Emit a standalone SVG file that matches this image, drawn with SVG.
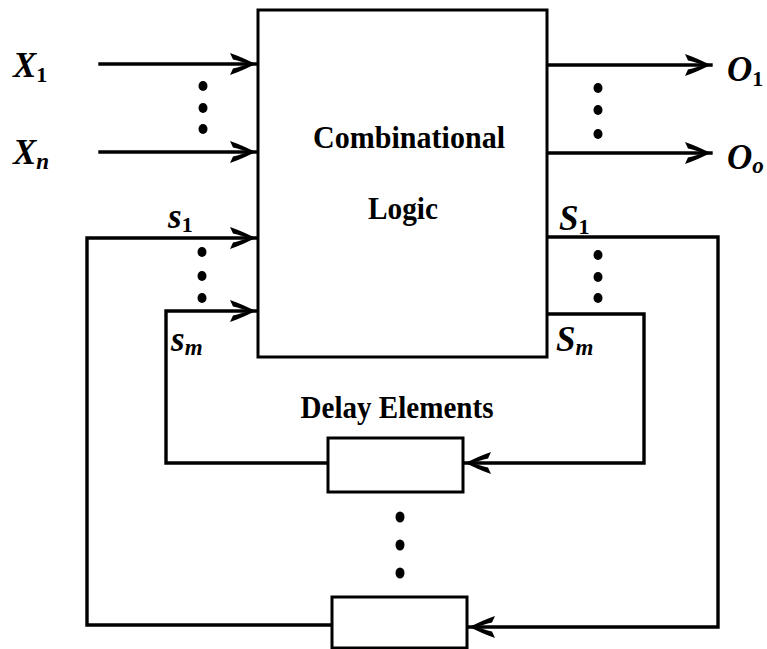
<svg xmlns="http://www.w3.org/2000/svg" width="767" height="649" viewBox="0 0 767 649">
<defs>
<style>
.ln{fill:none;stroke:#000;stroke-width:3.4;stroke-linejoin:miter;stroke-linecap:square}
.box{fill:#fff;stroke:#000;stroke-width:3}
.t{font-family:"Liberation Serif","Times New Roman",serif;font-weight:bold;font-size:32px;fill:#000}
.m{font-family:"Liberation Serif","Times New Roman",serif;font-weight:bold;font-style:italic;font-size:35px;fill:#000}
.sub{font-size:22px;font-style:normal}
.subi{font-size:23px}
.dot{fill:#000}
</style>
<marker id="arr" viewBox="-28 -13 30 26" refX="0" refY="0" markerWidth="30" markerHeight="26" markerUnits="userSpaceOnUse" orient="auto">
<path d="M0,0 C-8,-3.5 -17,-8 -26,-11 L-23,-4.5 C-17,-3 -12,-1.8 -8,0 C-12,1.8 -17,3 -23,4.5 L-26,11 C-17,8 -8,3.5 0,0 Z" fill="#000"/>
</marker>
</defs>
<g id="connectors">
<path class="ln" d="M100,64 H256" marker-end="url(#arr)"/>
<path class="ln" d="M100,152 H256" marker-end="url(#arr)"/>
<path class="ln" d="M547,65 H711" marker-end="url(#arr)"/>
<path class="ln" d="M547,153 H711" marker-end="url(#arr)"/>
<path class="ln" d="M332,625 H87 V238 H256" marker-end="url(#arr)"/>
<path class="ln" d="M328,463 H166 V311 H256" marker-end="url(#arr)"/>
<path class="ln" d="M547,237 H718 V627 H469" marker-end="url(#arr)"/>
<path class="ln" d="M547,314 H644 V463 H465" marker-end="url(#arr)"/>
</g>
<g id="combinational-logic">
<rect class="box" x="258" y="10" width="289" height="347"/>
<text class="t" x="409" y="148" text-anchor="middle" textLength="192" lengthAdjust="spacingAndGlyphs">Combinational</text>
<text class="t" x="403" y="219" text-anchor="middle" textLength="70" lengthAdjust="spacingAndGlyphs">Logic</text>
</g>
<g id="delay-element-1">
<rect class="box" x="328" y="438" width="135" height="54"/>
</g>
<g id="delay-element-2">
<rect class="box" x="332" y="597" width="135" height="51"/>
</g>
<g id="delay-label">
<text class="t" x="397" y="418" text-anchor="middle" textLength="193" lengthAdjust="spacingAndGlyphs">Delay Elements</text>
</g>
<g id="labels">
<text class="m" x="13" y="77">X<tspan class="sub" dy="5">1</tspan></text>
<text class="m" x="13" y="164">X<tspan class="subi" dy="5">n</tspan></text>
<text class="m" x="727" y="81">O<tspan class="sub" dy="5">1</tspan></text>
<text class="m" x="727" y="169">O<tspan class="subi" dy="4">o</tspan></text>
<text class="m" x="168" y="228">s<tspan class="sub" dy="4">1</tspan></text>
<text class="m" x="171" y="351">s<tspan class="subi" dy="4">m</tspan></text>
<text class="m" x="559" y="230">S<tspan class="sub" dy="4">1</tspan></text>
<text class="m" x="556" y="351">S<tspan class="subi" dy="4">m</tspan></text>
</g>
<g id="dots">
<ellipse class="dot" cx="203" cy="86" rx="4.5" ry="5"/>
<ellipse class="dot" cx="203" cy="108" rx="4.5" ry="5"/>
<ellipse class="dot" cx="203" cy="129" rx="4.5" ry="5"/>
<ellipse class="dot" cx="598" cy="88" rx="4.5" ry="5"/>
<ellipse class="dot" cx="598" cy="110" rx="4.5" ry="5"/>
<ellipse class="dot" cx="598" cy="134" rx="4.5" ry="5"/>
<ellipse class="dot" cx="202" cy="252" rx="4.5" ry="5"/>
<ellipse class="dot" cx="202" cy="276" rx="4.5" ry="5"/>
<ellipse class="dot" cx="202" cy="298" rx="4.5" ry="5"/>
<ellipse class="dot" cx="598" cy="255" rx="4.5" ry="5"/>
<ellipse class="dot" cx="598" cy="277" rx="4.5" ry="5"/>
<ellipse class="dot" cx="598" cy="298" rx="4.5" ry="5"/>
<ellipse class="dot" cx="400" cy="517" rx="4.5" ry="5.5"/>
<ellipse class="dot" cx="400" cy="545" rx="4.5" ry="5.5"/>
<ellipse class="dot" cx="400" cy="573" rx="4.5" ry="5.5"/>
</g>
</svg>
